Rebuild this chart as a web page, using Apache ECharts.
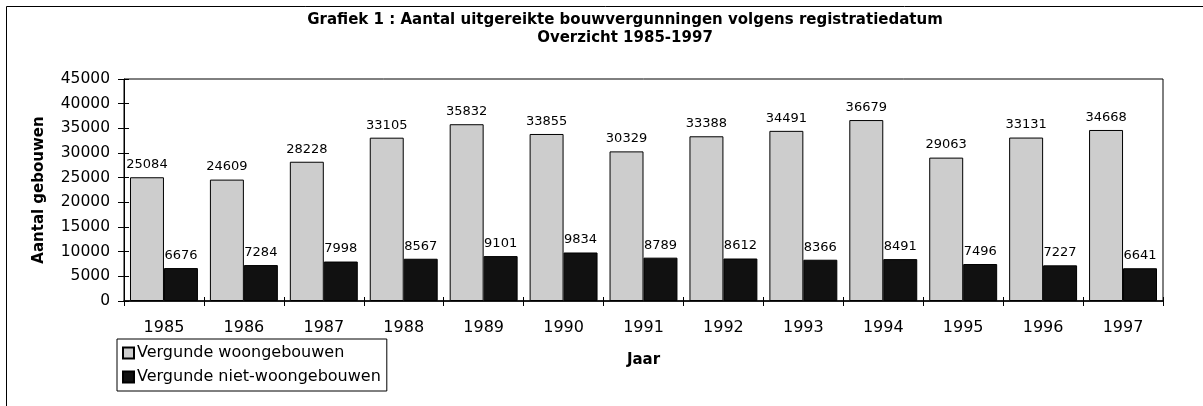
<!DOCTYPE html>
<html>
<head>
<meta charset="utf-8">
<script src="https://cdn.jsdelivr.net/npm/echarts@6/dist/echarts.min.js"></script>
<style>
  html, body { margin: 0; padding: 0; background: #fff; }
  #chart { width: 1203px; height: 406px; }
</style>
</head>
<body>
<div id="chart"></div>
<script>
// bouwvergunningen 1985-1997
var jaren = ['1985', '1986', '1987', '1988', '1989', '1990', '1991', '1992', '1993', '1994', '1995', '1996', '1997'];
var woongebouwen = [25084, 24609, 28228, 33105, 35832, 33855, 30329, 33388, 34491, 36679, 29063, 33131, 34668];
var nietWoongebouwen = [6676, 7284, 7998, 8567, 9101, 9834, 8789, 8612, 8366, 8491, 7496, 7227, 6641];

var fontFam = '"DejaVu Sans", sans-serif';
var chart = echarts.init(document.getElementById('chart'));
var option = {
  animation: false,
  textStyle: { fontFamily: fontFam, color: '#000' },
  title: {
    text: 'Grafiek 1 : Aantal uitgereikte bouwvergunningen volgens registratiedatum\nOverzicht 1985-1997',
    left: 620,
    top: 6,
    textAlign: 'center',
    textStyle: { fontSize: 15, fontWeight: 'bold', lineHeight: 18, fontFamily: fontFam, color: '#000' }
  },
  graphic: [
    { type: 'rect', shape: { x: 6.5, y: 6.5, width: 1220, height: 420 }, style: { fill: 'none', stroke: '#000', lineWidth: 1 }, silent: true }
  ],
  legend: {
    orient: 'vertical',
    left: 117,
    top: 339,
    icon: 'rect',
    itemWidth: 11,
    itemHeight: 11,
    itemGap: 8,
    padding: [6, 6, 6, 5],
    borderColor: '#000',
    borderWidth: 1,
    textStyle: { fontSize: 16, fontFamily: fontFam, color: '#000', padding: [0, 0, 0, -2] },
    data: ['Vergunde woongebouwen', 'Vergunde niet-woongebouwen']
  },
  grid: {
    left: 124, right: 40, top: 79, bottom: 105,
    show: true, borderColor: '#000', borderWidth: 1
  },
  xAxis: [{
    type: 'category',
    data: jaren,
    name: 'Jaar',
    nameLocation: 'middle',
    nameGap: 52,
    nameTextStyle: { fontSize: 15, fontWeight: 'bold', color: '#000' },
    axisLine: { lineStyle: { color: '#000', width: 1.5 } },
    axisTick: { show: true, length: 5, lineStyle: { color: '#000' } },
    axisLabel: { fontSize: 16, color: '#000', margin: 19 }
  }, {
    // tweede as alleen voor de naar binnen wijzende streepjes
    type: 'category',
    data: jaren,
    position: 'bottom',
    axisLine: { show: false },
    axisTick: { show: true, inside: true, length: 4, lineStyle: { color: '#000' } },
    axisLabel: { show: false }
  }],
  yAxis: [{
    type: 'value',
    min: 0,
    max: 45000,
    interval: 5000,
    name: 'Aantal gebouwen',
    nameLocation: 'middle',
    nameGap: 77,
    nameTextStyle: { fontSize: 15, fontWeight: 'bold', color: '#000' },
    splitLine: { show: false },
    axisLine: { show: true, lineStyle: { color: '#000' } },
    axisTick: { show: true, length: 6, lineStyle: { color: '#000' } },
    axisLabel: { fontSize: 15.5, color: '#000', margin: 14, formatter: function (v) { return String(v); } }
  }, {
    type: 'value',
    min: 0,
    max: 45000,
    interval: 5000,
    position: 'left',
    splitLine: { show: false },
    axisLine: { show: false },
    axisTick: { show: true, inside: true, length: 5, lineStyle: { color: '#000' } },
    axisLabel: { show: false }
  }],
  series: [
    {
      name: 'Vergunde woongebouwen',
      type: 'bar',
      data: woongebouwen,
      barGap: '0%',
      barCategoryGap: '15%',
      itemStyle: { color: '#cdcdcd', borderColor: '#000', borderWidth: 1 },
      label: { show: true, position: 'top', distance: 6, fontSize: 13, color: '#000' }
    },
    {
      name: 'Vergunde niet-woongebouwen',
      type: 'bar',
      data: nietWoongebouwen,
      itemStyle: { color: '#111', borderColor: '#000', borderWidth: 1 },
      label: { show: true, position: 'top', distance: 6, fontSize: 13, color: '#000' }
    }
  ]
};
chart.setOption(option);
</script>
</body>
</html>
